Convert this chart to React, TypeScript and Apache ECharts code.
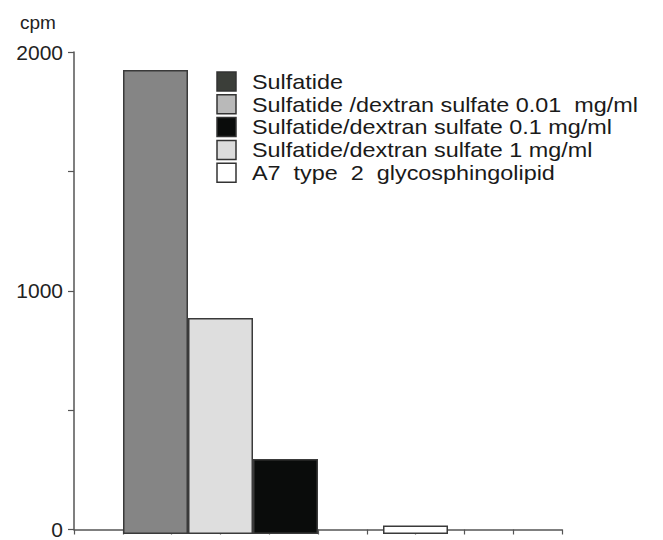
import React, { useEffect, useRef } from "react";
import * as echarts from "echarts";

const categories = ["A", "B", "C", "D", "E"];
const seriesNames = [
  "Sulfatide",
  "Sulfatide /dextran sulfate 0.01  mg/ml",
  "Sulfatide/dextran sulfate 0.1 mg/ml",
  "Sulfatide/dextran sulfate 1 mg/ml",
  "A7  type  2  glycosphingolipid",
];
const values = [1925, 896, 311, 0, 35];
const barColors = ["#858585", "#dedede", "#0a0c0b", "#dcdcdc", "#ffffff"];
const legendColors = ["#3b3e39", "#b9b9b9", "#0a0c0b", "#dcdcdc", "#ffffff"];
const yLabelValues = [0, 1000, 2000];

export default function App() {
  const ref = useRef<HTMLDivElement>(null);
  useEffect(() => {
    if (!ref.current) return;
    const chart = echarts.init(ref.current, undefined, { renderer: "svg" });
    const font = "Liberation Sans";
    const axisColor = "#555";
    const rowH = 22.8;
    const legendItems: any[] = [];
    seriesNames.forEach((name, i) => {
      legendItems.push({
        type: "rect",
        shape: { x: 0, y: i * rowH, width: 19, height: 19 },
        style: { fill: legendColors[i], stroke: "#333", lineWidth: 1.5 },
      });
      legendItems.push({
        type: "text",
        x: 35,
        y: i * rowH + 10,
        scaleX: 1.17,
        style: {
          text: name,
          font: `20px "${font}"`,
          fill: "#1a1a1a",
          verticalAlign: "middle",
        },
      });
    });
    chart.setOption({
      animation: false,
      backgroundColor: "#fff",
      textStyle: { fontFamily: font },
      grid: [
        { left: 74, right: 101, top: 52, bottom: 6 },
        { left: 123, width: 325, top: 52, bottom: 6 },
      ],
      graphic: [
        {
          type: "text",
          left: 20,
          top: 13,
          style: { text: "cpm", font: `19px "${font}"`, fill: "#222" },
        },
        {
          type: "group",
          x: 217,
          y: 72,
          children: legendItems,
        },
      ],
      xAxis: [
        {
          type: "value",
          gridIndex: 0,
          min: 0,
          max: 10,
          interval: 1,
          axisLine: { show: true, lineStyle: { color: axisColor, width: 1.5 } },
          axisTick: { show: true, length: 5, lineStyle: { color: axisColor, width: 1.2 } },
          axisLabel: { show: false },
          splitLine: { show: false },
        },
        {
          type: "category",
          gridIndex: 1,
          data: categories,
          show: false,
        },
      ],
      yAxis: [
        {
          type: "value",
          gridIndex: 0,
          min: 0,
          max: 2000,
          interval: 500,
          axisLine: { show: true, lineStyle: { color: axisColor, width: 1.5 } },
          axisTick: { show: true, length: 6, lineStyle: { color: axisColor, width: 1.2 } },
          axisLabel: {
            fontSize: 21,
            color: "#222",
            margin: 11,
            formatter: (v: number) => (yLabelValues.includes(v) ? String(v) : ""),
          },
          splitLine: { show: false },
        },
        {
          type: "value",
          gridIndex: 1,
          min: 0,
          max: 2000,
          show: false,
        },
      ],
      series: seriesNames.map((name, i) => ({
        type: "bar",
        name,
        xAxisIndex: 1,
        yAxisIndex: 1,
        barGap: "-100%",
        barCategoryGap: "0%",
        data: categories.map((_, j) => (j === i && values[i] > 0 ? values[i] : null)),
        itemStyle: { color: barColors[i], borderColor: "#3a3a3a", borderWidth: 1.5 },
      })),
    });
    return () => chart.dispose();
  }, []);
  return (
    <div
      ref={ref}
      style={{ position: "fixed", left: 0, top: 0, width: 663, height: 540 }}
    />
  );
}
